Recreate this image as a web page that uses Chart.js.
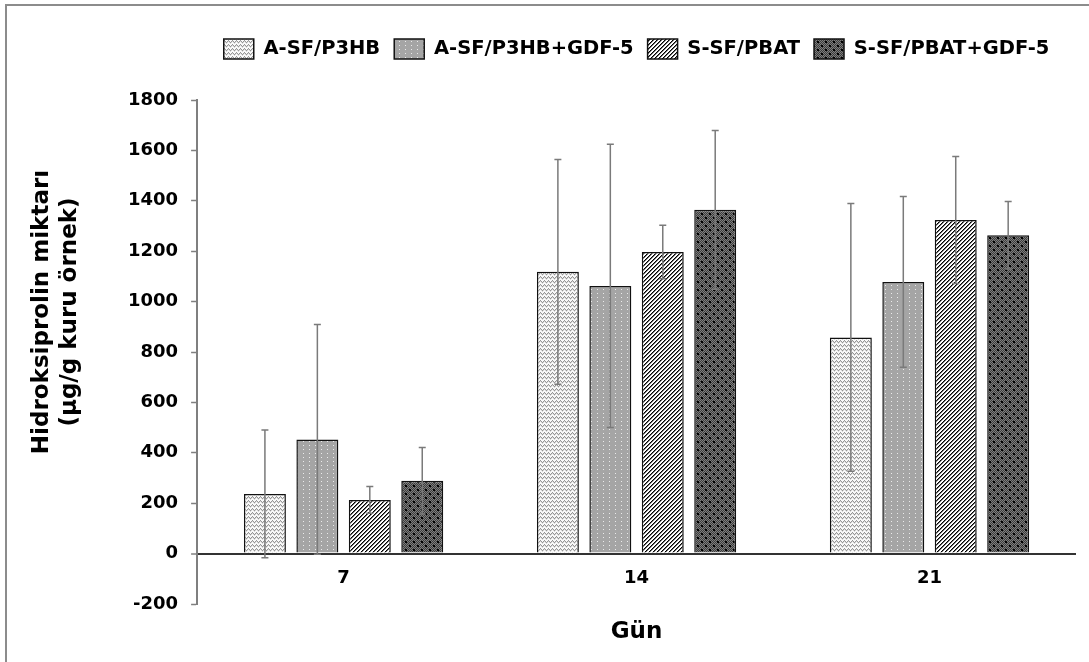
<!DOCTYPE html>
<html><head><meta charset="utf-8">
<script src="https://cdn.jsdelivr.net/npm/chart.js@4.4.1/dist/chart.umd.min.js"></script>
<style>html,body{margin:0;padding:0;background:#fff;}canvas{display:block;}</style>
</head><body>
<canvas id="c" width="1089" height="662"></canvas>
<script>
// ---- data ----
const categories = ['7', '14', '21'];
const seriesNames = ['A-SF/P3HB', 'A-SF/P3HB+GDF-5', 'S-SF/PBAT', 'S-SF/PBAT+GDF-5'];
const aP3HB = [237, 1118, 858];
const aP3HBErr = [253, 446, 531];
const aP3HBGdf = [453, 1062, 1078];
const aP3HBGdfErr = [456, 562, 339];
const sPBAT = [213, 1197, 1324];
const sPBATErr = [53, 106, 252];
const sPBATGdf = [289, 1364, 1263];
const sPBATGdfErr = [132, 315, 134];
const yMin = -200, yMax = 1800, yStep = 200;
const yTitleLines = ['Hidroksiprolin miktarı', '(µg/g kuru örnek)'];
const xTitle = 'Gün';

const seriesValues = [aP3HB, aP3HBGdf, sPBAT, sPBATGdf];
const seriesErrors = [aP3HBErr, aP3HBGdfErr, sPBATErr, sPBATGdfErr];

const FONT = 'DejaVu Sans';
const mainCtx = document.getElementById('c').getContext('2d');

function makePattern(w, h, fn) {
  const c = document.createElement('canvas');
  c.width = w; c.height = h;
  const x = c.getContext('2d');
  const img = x.createImageData(w, h);
  for (let j = 0; j < h; j++) for (let i = 0; i < w; i++) {
    const v = fn(i, j); const k = (j * w + i) * 4;
    img.data[k] = img.data[k + 1] = img.data[k + 2] = v; img.data[k + 3] = 255;
  }
  x.putImageData(img, 0, 0);
  return mainCtx.createPattern(c, 'repeat');
}
const zig = [0, 1, 2, 1];
const patterns = [
  makePattern(8, 4, (i, j) => (j % 4) === zig[i % 4] ? 150 : ((j % 4) === (zig[i % 4] + 1) % 4 ? 215 : 250)),
  makePattern(6, 4, (i, j) => (i === 3 && j === 1) ? 235 : 165),
  makePattern(4, 4, (i, j) => { const m = (i + j) % 4; return m === 0 ? 0 : (m === 1 ? 110 : 255); }),
  makePattern(8, 8, (i, j) => {
    if ((i === 1 || i === 2) && (j === 1 || j === 2)) return 0;
    if ((i === 5 || i === 6) && (j === 5 || j === 6)) return 0;
    return (i + j) % 2 ? 60 : 125;
  })
];

const frame = {
  id: 'frame',
  beforeDraw(chart) {
    const ctx = chart.ctx;
    ctx.save();
    ctx.fillStyle = '#fff';
    ctx.fillRect(0, 0, chart.width, chart.height);
    ctx.strokeStyle = '#8c8c8c';
    ctx.lineWidth = 2;
    ctx.beginPath();
    ctx.moveTo(6, chart.height); ctx.lineTo(6, 5); ctx.lineTo(chart.width, 5);
    ctx.stroke();
    ctx.restore();
  }
};

const legendSpacer = {
  id: 'legendSpacer',
  beforeLayout(chart) {
    const lg = chart.legend;
    if (lg && !lg._spacerPatched) {
      const f = lg.fit;
      lg.fit = function () { f.call(this); this.height += 31; };
      lg._spacerPatched = true;
    }
  }
};

const errorBars = {
  id: 'errorBars',
  afterDatasetsDraw(chart) {
    const ctx = chart.ctx, ys = chart.scales.y;
    ctx.save();
    ctx.strokeStyle = '#7a7a7a';
    ctx.lineWidth = 1.5;
    seriesErrors.forEach((errs, di) => {
      const meta = chart.getDatasetMeta(di);
      meta.data.forEach((bar, j) => {
        const v = seriesValues[di][j], e = errs[j];
        const x = bar.x;
        const yT = ys.getPixelForValue(v + e), yB = ys.getPixelForValue(v - e);
        ctx.beginPath();
        ctx.moveTo(x, yT); ctx.lineTo(x, yB);
        ctx.moveTo(x - 3.5, yT); ctx.lineTo(x + 3.5, yT);
        ctx.moveTo(x - 3.5, yB); ctx.lineTo(x + 3.5, yB);
        ctx.stroke();
      });
    });
    ctx.restore();
  }
};

const yTitle = {
  id: 'yTitle',
  afterDraw(chart) {
    const ctx = chart.ctx;
    ctx.save();
    ctx.fillStyle = '#000';
    ctx.font = 'bold 23px "' + FONT + '"';
    ctx.textAlign = 'center';
    ctx.textBaseline = 'middle';
    const xs = [42, 70];
    yTitleLines.forEach((t, i) => {
      ctx.save();
      ctx.translate(xs[i], 312);
      ctx.rotate(-Math.PI / 2);
      ctx.fillText(t, 0, 0);
      ctx.restore();
    });
    ctx.restore();
  }
};

new Chart(mainCtx, {
  type: 'bar',
  data: {
    labels: categories,
    datasets: seriesNames.map((n, i) => ({
      label: n,
      data: seriesValues[i],
      backgroundColor: patterns[i],
      borderColor: '#111',
      borderWidth: 1.5,
      categoryPercentage: 0.716,
      barPercentage: 0.8
    }))
  },
  options: {
    responsive: false,
    animation: false,
    devicePixelRatio: 1,
    layout: { padding: { top: 25, left: 115, right: 13, bottom: 58 } },
    plugins: {
      tooltip: { enabled: false },
      legend: {
        position: 'top',
        fullSize: false,
        align: 'center',
        labels: {
          boxWidth: 30, boxHeight: 20, padding: 14, color: '#000',
          font: { family: FONT, size: 19.5, weight: 'bold' }
        }
      }
    },
    scales: {
      x: {
        position: { y: 0 },
        grid: { display: false, drawTicks: false },
        border: { display: false },
        ticks: { color: '#000', padding: 13.6, font: { family: FONT, size: 18, weight: 'bold' } },
        title: { display: true, text: xTitle, color: '#000', padding: { top: 15.8, bottom: 0 },
                 font: { family: FONT, size: 23, weight: 'bold' } }
      },
      y: {
        min: yMin, max: yMax,
        ticks: { stepSize: yStep, color: '#000', padding: 13,
                 font: { family: FONT, size: 18, weight: 'bold' },
                 callback: v => String(v) },
        grid: {
          color: c => (c.tick && c.tick.value === 0) ? '#333' : 'rgba(0,0,0,0)',
          lineWidth: c => (c.tick && c.tick.value === 0) ? 2 : 1,
          tickColor: '#7f7f7f', tickWidth: 1.5, tickLength: 6, drawTicks: true
        },
        border: { display: true, color: '#7f7f7f', width: 2 }
      }
    }
  },
  plugins: [frame, legendSpacer, errorBars, yTitle]
});
</script>
</body></html>
